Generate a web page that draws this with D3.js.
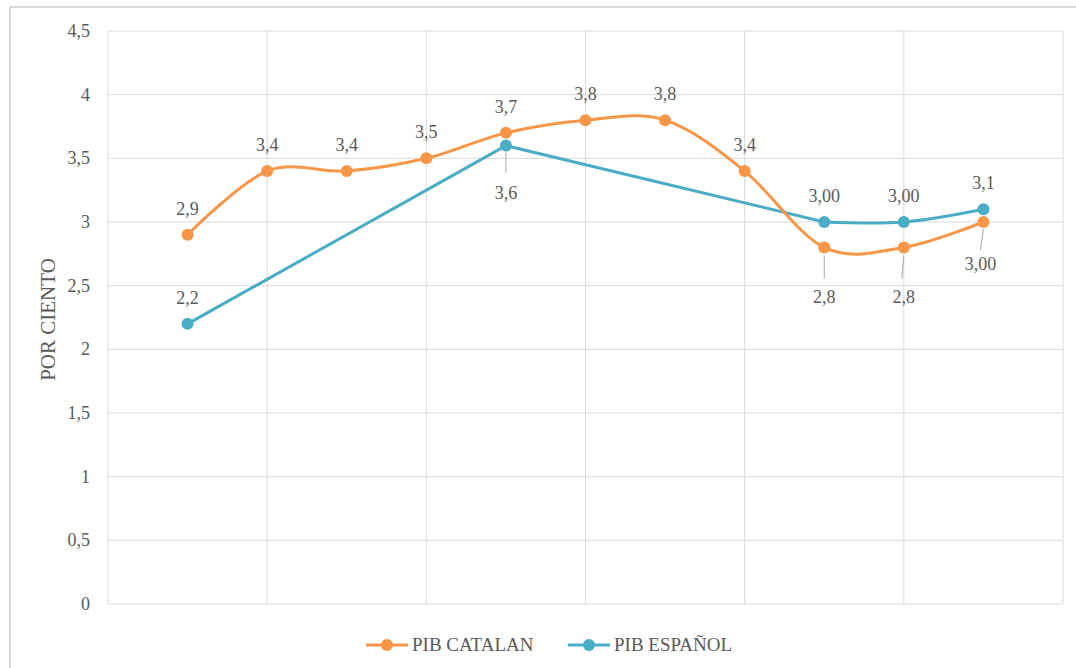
<!DOCTYPE html>
<html>
<head>
<meta charset="utf-8">
<script src="https://cdn.jsdelivr.net/npm/d3@7"></script>
<style>
  body { margin: 0; background: #fff; }
  svg text { font-family: 'Liberation Serif', 'Times New Roman', serif; fill: #595959; }
</style>
</head>
<body>
<div id="chart"></div>
<script>
// categories are unlabeled in the original, just positions 1..11
var categories = [1, 2, 3, 4, 5, 6, 7, 8, 9, 10, 11];
var pibCatalan = [2.9, 3.4, 3.4, 3.5, 3.7, 3.8, 3.8, 3.4, 2.8, 2.8, 3.0];
var pibCatalanLabels = ["2,9", "3,4", "3,4", "3,5", "3,7", "3,8", "3,8", "3,4", "2,8", "2,8", "3,00"];
var pibEspanol = [2.2, null, null, null, 3.6, null, null, null, 3.0, 3.0, 3.1];
var pibEspanolLabels = ["2,2", null, null, null, "3,6", null, null, null, "3,00", "3,00", "3,1"];
var yTicks = [0, 0.5, 1, 1.5, 2, 2.5, 3, 3.5, 4, 4.5];
var yTickLabels = ["0", "0,5", "1", "1,5", "2", "2,5", "3", "3,5", "4", "4,5"];
var seriesNames = ["PIB CATALAN", "PIB ESPAÑOL"];

var orange = "#f79646", blue = "#4bacc6";
var width = 1076, height = 668;

var svg = d3.select("#chart").append("svg")
  .attr("width", width).attr("height", height);

// outer chart border
svg.append("rect")
  .attr("x", 10).attr("y", 7).attr("width", 1080).attr("height", 700)
  .attr("fill", "none").attr("stroke", "#d9d9d9").attr("stroke-width", 2);

var plotLeft = 108, plotRight = 1063, plotTop = 31, plotBottom = 604;

var x = d3.scaleLinear().domain([0, 12]).range([plotLeft, plotRight]);
var y = d3.scaleLinear().domain([0, 4.5]).range([plotBottom, plotTop]);

// horizontal gridlines
svg.append("g").selectAll("line")
  .data(yTicks)
  .enter().append("line")
  .attr("x1", plotLeft).attr("x2", plotRight)
  .attr("y1", function(d) { return y(d); })
  .attr("y2", function(d) { return y(d); })
  .attr("stroke", "#d9d9d9").attr("stroke-width", 1);

// vertical gridlines every two categories
svg.append("g").selectAll("line")
  .data([0, 2, 4, 6, 8, 10, 12])
  .enter().append("line")
  .attr("x1", function(d) { return x(d); })
  .attr("x2", function(d) { return x(d); })
  .attr("y1", plotTop).attr("y2", plotBottom)
  .attr("stroke", "#d9d9d9").attr("stroke-width", 1);

// y tick labels
svg.append("g").selectAll("text")
  .data(yTicks)
  .enter().append("text")
  .attr("x", 90)
  .attr("y", function(d) { return y(d) + 6; })
  .attr("text-anchor", "end")
  .style("font-size", "18px")
  .text(function(d, i) { return yTickLabels[i]; });

// axis title
svg.append("text")
  .attr("transform", "translate(55," + ((plotTop + plotBottom) / 2 + 2) + ") rotate(-90)")
  .attr("text-anchor", "middle")
  .style("font-size", "21px")
  .text("POR CIENTO");

var smooth = d3.line()
  .x(function(d) { return x(d.c); })
  .y(function(d) { return y(d.v); })
  .curve(d3.curveCardinal.tension(0));

var straight = d3.line()
  .x(function(d) { return x(d.c); })
  .y(function(d) { return y(d.v); });

var catData = categories.map(function(c, i) { return {c: c, v: pibCatalan[i], label: pibCatalanLabels[i]}; });
var espData = categories.map(function(c, i) { return {c: c, v: pibEspanol[i], label: pibEspanolLabels[i]}; })
  .filter(function(d) { return d.v != null; });

// blue: gap bridges straight, consecutive run smoothed
var espBridge = espData.filter(function(d) { return d.c <= 9; });
var espRun = espData.filter(function(d) { return d.c >= 9; });

svg.append("path").attr("d", straight(espBridge))
  .attr("fill", "none").attr("stroke", blue).attr("stroke-width", 3).attr("stroke-linejoin", "round");
svg.append("path").attr("d", smooth(espRun))
  .attr("fill", "none").attr("stroke", blue).attr("stroke-width", 3);

svg.append("path").attr("d", smooth(catData))
  .attr("fill", "none").attr("stroke", orange).attr("stroke-width", 3);

// leader lines for labels placed below
var leaders = [
  {c: 5, v: 3.6, dx: 0, y1: 7, y2: 27},
  {c: 9, v: 2.8, dx: 0, y1: 8, y2: 31},
  {c: 10, v: 2.8, dx: -2, y1: 8, y2: 31},
  {c: 11, v: 3.0, dx: -3, y1: 7, y2: 28}
];
svg.append("g").selectAll("line")
  .data(leaders)
  .enter().append("line")
  .attr("x1", function(d) { return x(d.c); })
  .attr("x2", function(d) { return x(d.c) + d.dx; })
  .attr("y1", function(d) { return y(d.v) + d.y1; })
  .attr("y2", function(d) { return y(d.v) + d.y2; })
  .attr("stroke", "#a6a6a6").attr("stroke-width", 1);

// markers
svg.append("g").selectAll("circle")
  .data(espData)
  .enter().append("circle")
  .attr("cx", function(d) { return x(d.c); })
  .attr("cy", function(d) { return y(d.v); })
  .attr("r", 6).attr("fill", blue);

svg.append("g").selectAll("circle")
  .data(catData)
  .enter().append("circle")
  .attr("cx", function(d) { return x(d.c); })
  .attr("cy", function(d) { return y(d.v); })
  .attr("r", 6).attr("fill", orange);

// data labels
function labelOffset(d, series) {
  if (series == "cat" && d.c >= 9) return d.c == 11 ? 48 : 56;
  if (series == "esp" && d.c == 5) return 53;
  return -20;
}
svg.append("g").selectAll("text")
  .data(catData)
  .enter().append("text")
  .attr("x", function(d) { return x(d.c) + (d.c == 11 ? -3 : 0); })
  .attr("y", function(d) { return y(d.v) + labelOffset(d, "cat"); })
  .attr("text-anchor", "middle")
  .style("font-size", "18px")
  .text(function(d) { return d.label; });

svg.append("g").selectAll("text")
  .data(espData)
  .enter().append("text")
  .attr("x", function(d) { return x(d.c); })
  .attr("y", function(d) { return y(d.v) + labelOffset(d, "esp"); })
  .attr("text-anchor", "middle")
  .style("font-size", "18px")
  .text(function(d) { return d.label; });

// legend
var legend = svg.append("g").selectAll("g")
  .data(seriesNames)
  .enter().append("g")
  .attr("transform", function(d, i) { return "translate(" + (366 + i * 202) + ",645)"; });
legend.append("line")
  .attr("x1", 0).attr("x2", 42).attr("y1", 0).attr("y2", 0)
  .attr("stroke", function(d, i) { return i == 0 ? orange : blue; })
  .attr("stroke-width", 3);
legend.append("circle")
  .attr("cx", 21).attr("cy", 0).attr("r", 6)
  .attr("fill", function(d, i) { return i == 0 ? orange : blue; });
legend.append("text")
  .attr("x", 46).attr("y", 6)
  .style("font-size", "19px")
  .text(function(d) { return d; });
</script>
</body>
</html>
